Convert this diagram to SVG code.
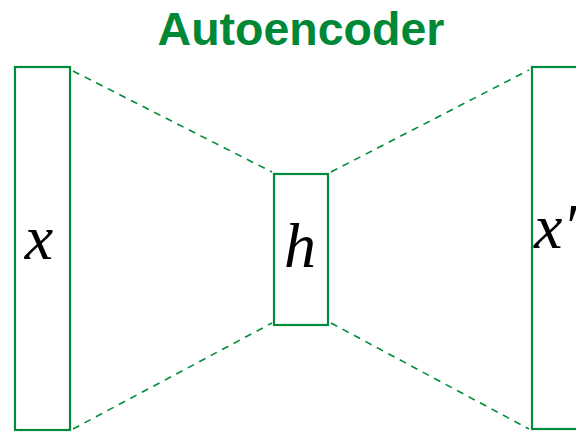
<svg xmlns="http://www.w3.org/2000/svg" width="576" height="432" viewBox="0 0 576 432">
<style>
.box{fill:#fff;stroke:#008C3A;stroke-width:2.2}
.dash{stroke:#008C3A;stroke-width:1.6;stroke-dasharray:7,6;fill:none}
.math{font-family:"Liberation Serif","DejaVu Serif",serif;font-style:italic;font-size:64px;fill:#000}
.title{font-family:"Liberation Sans",Arial,sans-serif;font-weight:bold;font-size:46.5px;fill:#008837}
</style>
<rect width="576" height="432" fill="#fff"/>
<text class="title" x="301" y="45" text-anchor="middle">Autoencoder</text>
<g id="connectors">
<line class="dash" x1="73" y1="71" x2="272" y2="172"/>
<line class="dash" x1="73" y1="429" x2="272" y2="323"/>
<line class="dash" x1="331" y1="172" x2="529" y2="70"/>
<line class="dash" x1="331" y1="323" x2="529" y2="429"/>
</g>
<g id="input">
<rect class="box" x="15" y="67" width="55" height="363"/>
<text class="math" x="39" y="259" text-anchor="middle">x</text>
</g>
<g id="hidden">
<rect class="box" x="274" y="174" width="54" height="151"/>
<text class="math" x="300" y="267" text-anchor="middle">h</text>
</g>
<g id="output">
<rect class="box" x="532" y="67" width="60" height="362"/>
<text class="math" x="534" y="248">x′</text>
</g>
</svg>
